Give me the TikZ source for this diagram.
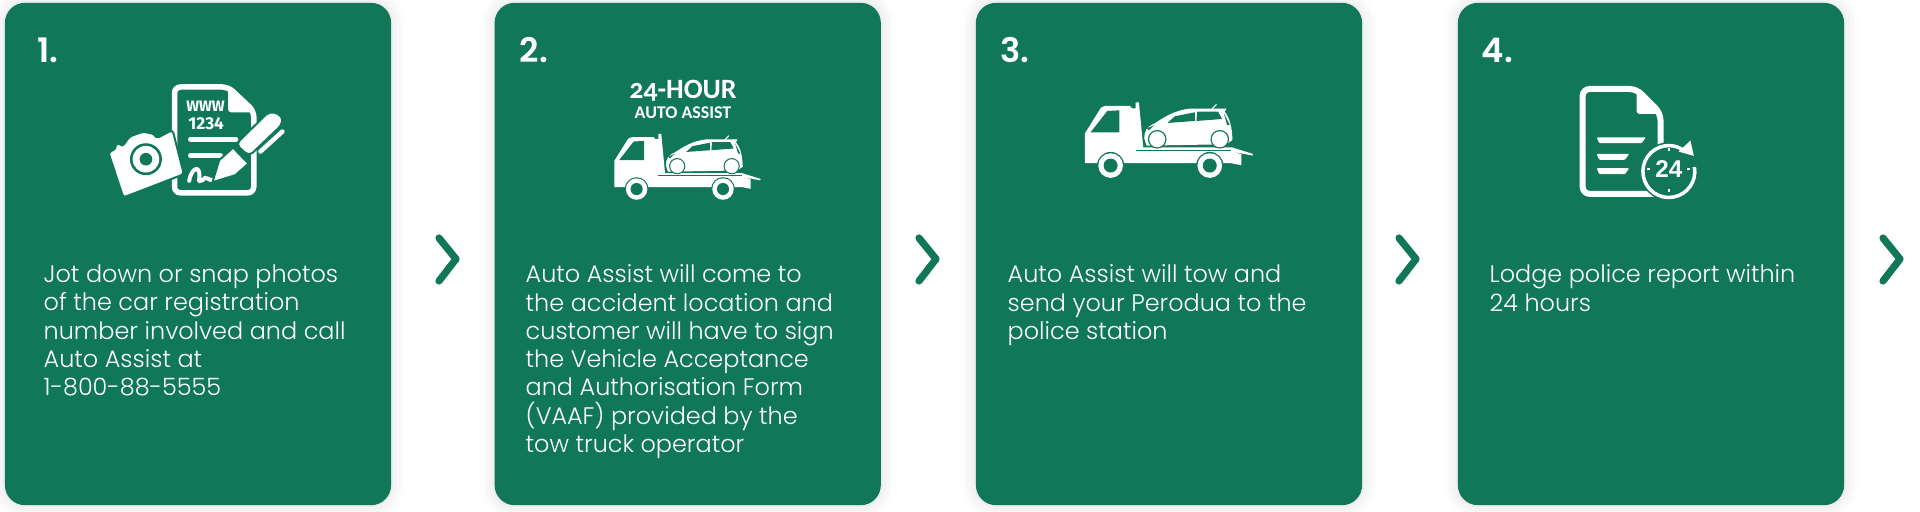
\documentclass[tikz,border=0pt]{standalone}
\usepackage{fontspec}
\usepackage{xcolor}
\usetikzlibrary{shadows.blur}
\setmainfont{Poppins}[UprightFont=* Light,BoldFont=* SemiBold]
\newfontfamily\logofont[Numbers=OldStyle]{Carlito}
\newfontfamily\plainfont{Fira Sans}
\newfontfamily\clockfont{Liberation Sans}
\definecolor{cardgreen}{HTML}{107858}
\tikzset{
	card/.style={fill=cardgreen, rounded corners=0.2cm, minimum width=3.86cm, minimum height=5.02cm, inner sep=0pt, blur shadow={shadow xshift=0cm, shadow yshift=0cm, shadow blur radius=0.14cm, shadow opacity=14}},
	stepnum/.style={text=white, anchor=base west, inner sep=0pt, font=\fontsize{9.6}{10}\selectfont\bfseries},
	cardtext/.style={text=white, anchor=north west, align=left, inner sep=0pt, font=\fontsize{6.8}{8.05}\selectfont},
	nextmark/.style={draw=cardgreen, line width=0.072cm, line cap=round, line join=round},
	iconline/.style={draw=white, line width=0.05cm, line cap=round},
	cutout/.style={fill=white, draw=cardgreen, line width=0.02cm, line join=round},
	truck/.pic={
		\begin{scope}[x=0.003333cm, y=-0.003333cm]
			\fill[white] (30,205)--(30,115)--(78,38)--(90,33)--(165,33)--(172,40)--(182,40)--(182,22)--(192,22)--(205,157)--(470,157)--(535,177)--(533,182)--(472,170)--(500,178)--(500,211)--(470,205)--cycle;
			\fill[cardgreen] (47,112)--(97,48)--(133,46)--(133,112)--cycle;
			\draw[cardgreen, line width=0.4pt] (182,166)--(470,166);
			\fill[cardgreen] (107,212) circle (41);
			\fill[white] (107,212) circle (37);
			\fill[cardgreen] (107,212) circle (21);
			\fill[cardgreen] (405,212) circle (41);
			\fill[white] (405,212) circle (37);
			\fill[cardgreen] (405,212) circle (21);
			\fill[white] (208,130) .. controls (208,110) and (215,95) .. (240,85) .. controls (270,65) and (300,46) .. (345,41)--(455,41)--(450,50) .. controls (465,70) and (472,95) .. (473,135)--(455,148)--(215,152)--cycle;
			\fill[cardgreen] (278,84)--(300,64)--(360,52)--(360,78)--cycle;
			\fill[cardgreen] (367,50)--(430,50)--(442,72)--(365,78)--cycle;
			\fill[cardgreen] (447,55)--(465,90)--(457,90)--cycle;
			\fill[cardgreen] (216,100)--(238,91)--(222,106)--cycle;
			\draw[white, line width=0.3pt] (412,41)--(425,28);
			\fill[cardgreen] (247,133) circle (28);
			\fill[white] (247,133) circle (24);
			\fill[cardgreen] (435,133) circle (28);
			\fill[white] (435,133) circle (24);
		\end{scope}
	}
}
\begin{document}
\begin{tikzpicture}[x=0.01cm, y=-0.01cm]
	\useasboundingbox (0,0) rectangle (1920,511);
	\node[card] (card1) at (198,254) {};
	\node[card] (card2) at (687.7,254) {};
	\node[card] (card3) at (1169,254) {};
	\node[card] (card4) at (1651,254) {};
	\node[stepnum] (num1) at (37,62) {1.};
	\node[stepnum] (num2) at (519,62) {2.};
	\node[stepnum] (num3) at (1000,62) {3.};
	\node[stepnum] (num4) at (1481,62) {4.};
	\node[cardtext] (text1) at (43,264) {Jot down or snap photos\\of the car registration\\number involved and call\\Auto Assist at\\1-800-88-5555};
	\node[cardtext] (text2) at (525,264) {Auto Assist will come to\\the accident location and\\customer will have to sign\\the Vehicle Acceptance\\and Authorisation Form\\(VAAF) provided by the\\tow truck operator};
	\node[cardtext] (text3) at (1007,264) {Auto Assist will tow and\\send your Perodua to the\\police station};
	\node[cardtext] (text4) at (1489,264) {Lodge police report within\\24 hours};
	\coordinate (next1) at (439,238);
	\coordinate (next2) at (919,238);
	\coordinate (next3) at (1399,238);
	\coordinate (next4) at (1883,238);
	\draw[nextmark] (next1)--++(17,21)--++(-17,22);
	\draw[nextmark] (next2)--++(17,21)--++(-17,22);
	\draw[nextmark] (next3)--++(17,21)--++(-17,22);
	\draw[nextmark] (next4)--++(17,21)--++(-17,22);
	\begin{scope}[shift={(100,75)}, x=0.003333cm, y=-0.003333cm]
		\draw[white, line width=0.055cm, rounded corners=0.06cm, fill=cardgreen] (224,36)--(385,36)--(462,108)--(462,354)--(224,354)--cycle;
		\fill[white, rounded corners=0.03cm] (385,36)--(385,112)--(462,112)--cycle;
		\node[text=white, inner sep=0pt, font=\plainfont\fontsize{4.3}{4}\selectfont\bfseries] (www) at (317,93) {WWW};
		\node[text=white, inner sep=0pt, font=\plainfont\fontsize{4.9}{4}\selectfont\bfseries] (plate) at (319,146) {1234};
		\draw[iconline] (272,193)--(408,193);
		\draw[iconline] (272,242)--(362,242);
		\draw[white, line width=0.04cm, line cap=round] (268,318) .. controls (272,290) and (292,270) .. (298,292) .. controls (302,318) and (290,322) .. (308,316) .. controls (318,300) and (325,318) .. (342,316);
		\draw[cutout, rounded corners=0.03cm] (25,232)--(48,222)--(45,208)--(60,205)--(68,215)--(88,185)--(130,170)--(165,178)--(170,190)--(218,165)--(252,298)--(70,368)--cycle;
		\fill[cardgreen] (138,253) circle (48);
		\fill[white] (138,253) circle (40);
		\fill[cardgreen] (138,253) circle (19);
		\draw[cutout] (338,322)--(358,256)--(400,218)--(446,266)--(407,301)--cycle;
		\draw[cutout, rounded corners=0.05cm] (408,208)--(510,108)--(548,122)--(548,148)--(448,244)--cycle;
		\draw[white, line width=0.045cm, line cap=round] (482,230)--(548,170);
	\end{scope}
	\pic at (605.6,127.6) [scale=0.871] {truck};
	\node[text=white, inner sep=0pt, anchor=base, font=\logofont\fontsize{7.95}{8}\selectfont\bfseries] (hourlabel) at (683,98) {24-HOUR};
	\node[text=white, inner sep=0pt, anchor=base, font=\logofont\fontsize{5.1}{5}\selectfont\bfseries] (assistlabel) at (683,118) {AUTO ASSIST};
	\pic at (1075,95) {truck};
	\begin{scope}[shift={(1570,80)}, x=0.003333cm, y=-0.003333cm]
		\draw[white, line width=0.06cm, rounded corners=0.07cm, fill=cardgreen] (38,27)--(200,27)--(272,100)--(272,342)--(38,342)--cycle;
		\fill[white, rounded corners=0.03cm] (200,27)--(200,102)--(272,102)--cycle;
		\fill[white, rounded corners=0.01cm] (80,172)--(228,172)--(215,190)--(88,190)--cycle;
		\fill[white, rounded corners=0.01cm] (80,222)--(178,222)--(165,240)--(88,240)--cycle;
		\fill[white, rounded corners=0.01cm] (80,265)--(178,265)--(165,283)--(88,283)--cycle;
		\fill[cardgreen] (297,275) circle (88);
		\draw[white, line width=0.035cm] (297,275) ++(-10:78) arc[start angle=-10, end angle=300, radius=78];
		\fill[white] (372,228)--(362,182)--(326,215)--cycle;
		\draw[white, line width=0.018cm] (297,204)--(297,212) (297,328)--(297,336) (232,268)--(240,268) (352,268)--(360,268);
		\node[text=white, inner sep=0pt, font=\clockfont\fontsize{6.9}{7}\selectfont\bfseries] (hours) at (297,268) {24};
	\end{scope}
\end{tikzpicture}
\end{document}
